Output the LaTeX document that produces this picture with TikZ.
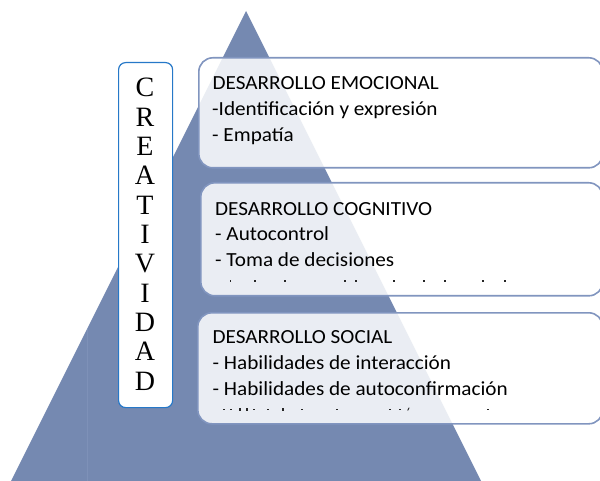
\documentclass[tikz,border=0pt]{standalone}
\usepackage{fontspec}
\newfontfamily\calfont[FakeStretch=1.06]{Carlito}
\newfontfamily\timesfont{Liberation Serif}
\definecolor{tri}{HTML}{7589B1}
\definecolor{triline}{HTML}{7E91B8}
\definecolor{panelborder}{HTML}{8195BF}
\definecolor{creaborder}{HTML}{2678C8}
\begin{document}
\begin{tikzpicture}[x=1pt,y=-1pt,
  panel/.style={draw=panelborder, line width=1.6pt, fill=white, fill opacity=0.85,
    rounded corners=14pt, anchor=north west, inner sep=0pt},
  crea/.style={draw=creaborder, line width=1.2pt, fill=white, rounded corners=7pt,
    anchor=north west, inner sep=0pt},
  txt/.style={anchor=base west, inner sep=0pt, font=\calfont\fontsize{20}{24}\selectfont},
  letter/.style={anchor=base, inner sep=0pt, font=\timesfont\fontsize{28}{30}\selectfont},
  frag/.style={fill=black!85}]
\useasboundingbox (0,0) rectangle (600,481);
\clip (0,0) rectangle (600,481);
% pyramid
\fill[tri] (246,11) -- (481,481) -- (11,481) -- cycle;
\draw[triline, line width=0.6pt] (87.5,329) -- (87.5,481);
% panels
\node[panel, minimum width=404pt, minimum height=110pt] (emo) at (198,57) {};
\node[panel, minimum width=402pt, minimum height=113pt] (cog) at (200,182) {};
\node[panel, minimum width=405pt, minimum height=111pt] (soc) at (197,312) {};
% panel texts
\node[txt] (emo1) at (212.5,90) {DESARROLLO EMOCIONAL};
\node[txt] (emo2) at (212,116) {-Identificación y expresión};
\node[txt] (emo3) at (212,142) {- Empatía};
\node[txt] (cog1) at (215,216) {DESARROLLO COGNITIVO};
\node[txt] (cog2) at (215,241) {- Autocontrol};
\node[txt] (cog3) at (215,267) {- Toma de decisiones};
\node[txt] (soc1) at (212.5,343) {DESARROLLO SOCIAL};
\node[txt] (soc2) at (212.5,369) {- Habilidades de interacción};
\node[txt] (soc3) at (212.5,395) {- Habilidades de autoconfirmación};
% clipped fragments of a hidden fourth line
\foreach \x in {230.7,255,285,345,356,394,424,445,483,505}
  \fill[frag] (\x-0.7,280.3) rectangle (\x+0.7,282);
\foreach \x in {224,231,254,268,302,337,390,400,488}
  \fill[frag] (\x-0.7,408.5) rectangle (\x+0.7,410.2);
\foreach \x in {240,247,283}
  \fill[frag] (\x-0.7,407.5) rectangle (\x+0.7,410.5);
\fill[frag] (407.3,410.4) -- (408.6,407.6) -- (409.6,407.8) -- (408.1,410.6) -- cycle;
% creatividad box
\node[crea, minimum width=54pt, minimum height=345pt] (crea) at (118,62) {};
\foreach \l [count=\i from 0] in {C,R,E,A,T,I,V,I,D,A,D}
  \node[letter] (l\i) at (145,97+29.3*\i) {\l};
\end{tikzpicture}
\end{document}
